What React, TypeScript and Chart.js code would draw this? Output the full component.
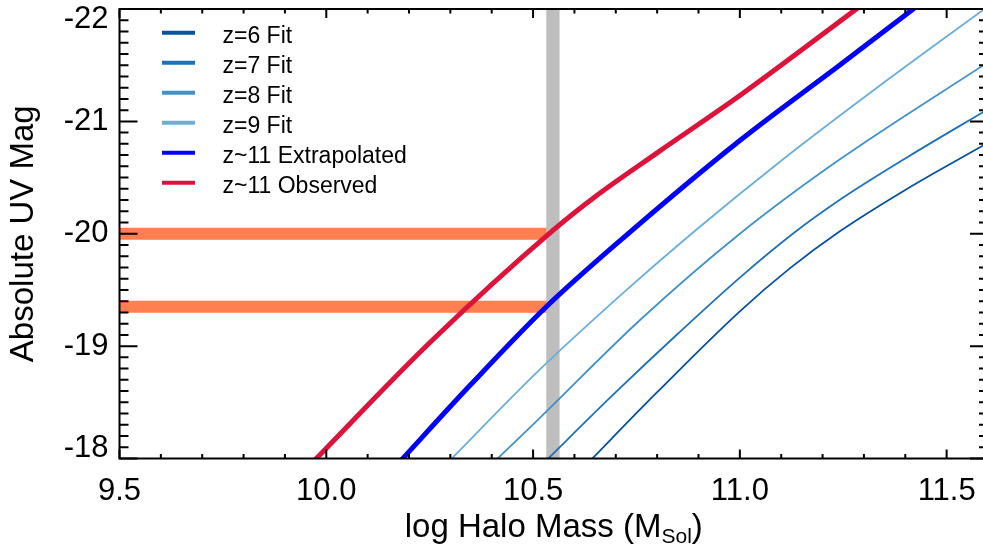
import React, { useEffect, useRef } from 'react';
import { Chart, registerables } from 'chart.js';

Chart.register(...registerables);

// ---------- axis ranges & ticks ----------
const X_MIN = 9.5;
const X_MAX = 11.6;
const Y_MIN = -22;
const Y_MAX = -18;
const X_TICKS = [9.5, 10.0, 10.5, 11.0, 11.5];
const Y_TICKS = [-22, -21, -20, -19, -18];

// ---------- series (log halo mass vs absolute UV mag) ----------
const Z6_MASS = [10.63, 10.8, 11.0, 11.12, 11.241, 11.4, 11.61];
const Z6_MAG = [-17.95, -18.59, -19.31, -19.69, -20.02, -20.39, -20.83];

const Z7_MASS = [10.52, 10.7, 10.85, 11.0, 11.128, 11.241, 11.4, 11.61];
const Z7_MAG = [-17.94, -18.59, -19.11, -19.61, -20.0, -20.3, -20.67, -21.13];

const Z8_MASS = [10.4, 10.516, 10.758, 11.0, 11.241, 11.61];
const Z8_MAG = [-17.95, -18.36, -19.23, -20.0, -20.66, -21.55];

const Z9_MASS = [10.29, 10.516, 10.72, 10.883, 11.1, 11.35, 11.61];
const Z9_MAG = [-17.95, -18.79, -19.48, -20.0, -20.65, -21.35, -22.05];

const EXT_MASS = [10.17, 10.35, 10.532, 10.714, 11.0, 11.241, 11.43];
const EXT_MAG = [-17.94, -18.66, -19.35, -19.95, -20.83, -21.5, -22.03];

const OBS_MASS = [9.96, 10.25, 10.548, 10.65, 10.8, 11.0, 11.3];
const OBS_MAG = [-17.94, -19.03, -20.03, -20.33, -20.72, -21.23, -22.05];

// observed magnitude limits (orange bars) and halo-mass marker (grey band)
const OBS_LIMITS = [-20.0, -19.35];
const BAR_START_MASS = 9.5;
const BAND_MASS = 10.548;

const FONT = "'Liberation Sans', Arial, Helvetica, sans-serif";

const zip = (xs: number[], ys: number[]) => xs.map((x, i) => ({ x, y: ys[i] }));

const idlAxesPlugin = {
  id: 'idlAxes',
  afterDatasetsDraw(chart: any) {
    const { ctx, chartArea } = chart;
    const { left, right, top, bottom } = chartArea;
    const xs = chart.scales.x;
    const ys = chart.scales.y;
    ctx.save();
    ctx.strokeStyle = '#000';
    ctx.lineWidth = 2;
    ctx.lineJoin = 'miter';
    ctx.beginPath();
    ctx.rect(left, top, right - left, bottom - top);
    ctx.stroke();

    // ticks, inward
    ctx.beginPath();
    for (let i = 0; ; i++) {
      const v = X_MIN + i * 0.1;
      if (v > X_MAX + 1e-6) break;
      const major = Math.abs(v * 2 - Math.round(v * 2)) < 1e-6;
      const len = major ? 9 : 4.5;
      const px = xs.getPixelForValue(v);
      ctx.moveTo(px, bottom);
      ctx.lineTo(px, bottom - len);
      ctx.moveTo(px, top);
      ctx.lineTo(px, top + len);
    }
    for (let i = 0; ; i++) {
      const v = Y_MIN + i * 0.1;
      if (v > Y_MAX + 1e-6) break;
      const major = Math.abs(v - Math.round(v)) < 1e-6;
      const len = major ? 18 : 9;
      const py = ys.getPixelForValue(v);
      ctx.moveTo(left, py);
      ctx.lineTo(left + len, py);
      ctx.moveTo(right, py);
      ctx.lineTo(right - len, py);
    }
    ctx.stroke();

    // legend
    const legendItems = chart.data.datasets.filter((d: any) => d.inLegend);
    ctx.font = `23px ${FONT}`;
    ctx.textAlign = 'left';
    ctx.textBaseline = 'alphabetic';
    legendItems.forEach((d: any, i: number) => {
      const y = top + 23.7 + i * 30;
      ctx.strokeStyle = d.borderColor;
      ctx.lineWidth = 4;
      ctx.lineCap = 'butt';
      ctx.beginPath();
      ctx.moveTo(left + 42.5, y);
      ctx.lineTo(left + 75.5, y);
      ctx.stroke();
      ctx.fillStyle = '#000';
      ctx.fillText(d.label, left + 103, y + 10.6);
    });

    // x-axis title with subscript
    const main = 'log Halo Mass (M';
    const sub = 'Sol';
    const tail = ')';
    ctx.fillStyle = '#000';
    ctx.font = `33px ${FONT}`;
    const wMain = ctx.measureText(main).width;
    const wTail = ctx.measureText(tail).width;
    ctx.font = `21px ${FONT}`;
    const wSub = ctx.measureText(sub).width;
    const total = wMain + wSub + wTail;
    const cx = (left + right) / 2;
    let x0 = cx - total / 2;
    const base = 537;
    ctx.font = `33px ${FONT}`;
    ctx.fillText(main, x0, base);
    x0 += wMain;
    ctx.font = `21px ${FONT}`;
    ctx.fillText(sub, x0, base + 6);
    x0 += wSub;
    ctx.font = `33px ${FONT}`;
    ctx.fillText(tail, x0, base);
    ctx.restore();
  },
};

export default function App() {
  const canvasRef = useRef<HTMLCanvasElement | null>(null);

  useEffect(() => {
    const canvas = canvasRef.current;
    if (!canvas) return;
    Chart.defaults.color = '#000';

    const curve = (label: string, mass: number[], mag: number[], color: string, width: number) => ({
      label,
      data: zip(mass, mag),
      borderColor: color,
      backgroundColor: color,
      borderWidth: width,
      pointRadius: 0,
      fill: false,
      cubicInterpolationMode: 'monotone',
      clip: 0,
      order: 0,
      inLegend: true,
    });

    const datasets: any[] = [
      curve('z=6 Fit', Z6_MASS, Z6_MAG, '#08519c', 1.8),
      curve('z=7 Fit', Z7_MASS, Z7_MAG, '#2171b5', 1.8),
      curve('z=8 Fit', Z8_MASS, Z8_MAG, '#4292c6', 1.8),
      curve('z=9 Fit', Z9_MASS, Z9_MAG, '#6baed6', 1.8),
      curve('z~11 Extrapolated', EXT_MASS, EXT_MAG, '#0000ff', 5),
      curve('z~11 Observed', OBS_MASS, OBS_MAG, '#dc143c', 5),
      {
        label: 'band',
        data: [
          { x: BAND_MASS, y: Y_MAX },
          { x: BAND_MASS, y: Y_MIN },
        ],
        borderColor: '#bebebe',
        borderWidth: 13.3,
        borderCapStyle: 'butt',
        pointRadius: 0,
        clip: 0,
        order: 1,
      },
      ...OBS_LIMITS.map((m) => ({
        label: 'limit',
        data: [
          { x: BAR_START_MASS, y: m },
          { x: BAND_MASS, y: m },
        ],
        borderColor: '#ff7f50',
        borderWidth: 12,
        borderCapStyle: 'butt',
        pointRadius: 0,
        clip: 0,
        order: 2,
      })),
    ];

    const chart = new Chart(canvas, {
      type: 'line',
      data: { datasets },
      options: {
        animation: false,
        responsive: false,
        devicePixelRatio: 1,
        layout: { padding: { top: 9, right: 12, left: 0, bottom: 0 } },
        plugins: { legend: { display: false }, tooltip: { enabled: false } },
        scales: {
          x: {
            type: 'linear',
            min: X_MIN,
            max: X_MAX,
            grid: { display: false, drawTicks: false },
            border: { display: false },
            afterBuildTicks: (s: any) => {
              s.ticks = X_TICKS.map((value) => ({ value }));
            },
            afterFit: (s: any) => {
              s.height = 88.5;
              s.paddingLeft = 0;
              s.paddingRight = 0;
            },
            ticks: {
              autoSkip: false,
              maxRotation: 0,
              padding: 14,
              color: '#000',
              font: { family: FONT, size: 31 },
              callback: (v: any) => Number(v).toFixed(1),
            },
          },
          y: {
            type: 'linear',
            min: Y_MIN,
            max: Y_MAX,
            reverse: true,
            grid: { display: false, drawTicks: false },
            border: { display: false },
            afterBuildTicks: (s: any) => {
              s.ticks = Y_TICKS.map((value) => ({ value }));
            },
            afterFit: (s: any) => {
              s.width = 119.5;
              s.paddingTop = 0;
              s.paddingBottom = 0;
            },
            title: {
              display: true,
              text: 'Absolute UV Mag',
              color: '#000',
              font: { family: FONT, size: 33 },
              padding: { top: 4, bottom: 0 },
            },
            ticks: {
              autoSkip: false,
              padding: 11,
              color: '#000',
              font: { family: FONT, size: 31, lineHeight: 0.645 },
              callback: (v: any) => {
                const s = String(v);
                if (v === Y_MIN) return ['', s];
                if (v === Y_MAX) return [s, ''];
                return s;
              },
            },
          },
        },
      } as any,
      plugins: [idlAxesPlugin],
    });

    return () => chart.destroy();
  }, []);

  return (
    <div
      style={{
        position: 'absolute',
        left: 0,
        top: 0,
        width: 983,
        height: 547,
        overflow: 'hidden',
        background: '#fff',
      }}
    >
      <canvas ref={canvasRef} width={1000} height={547} style={{ display: 'block', width: 1000, height: 547 }} />
    </div>
  );
}
